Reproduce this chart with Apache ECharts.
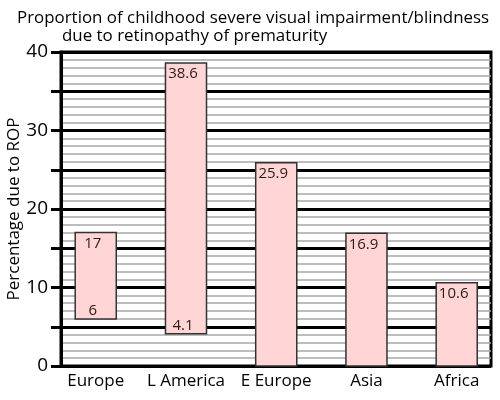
<!DOCTYPE html>
<html>
<head>
<meta charset="utf-8">
<script src="https://cdn.jsdelivr.net/npm/echarts@6/dist/echarts.min.js"></script>
<style>
  html, body { margin: 0; padding: 0; background: #fff; }
  #chart { width: 500px; height: 400px; }
</style>
</head>
<body>
<div id="chart"></div>
<script>
var categories = ['Europe', 'L America', 'E Europe', 'Asia', 'Africa'];
var lowValues = [6, 4.1, 0, 0, 0];
var highValues = [17, 38.6, 25.9, 16.9, 10.6];
var yLabelValues = [0, 10, 20, 30, 40];

var FONT = '"Open Sans", "Noto Sans", sans-serif';

var chart = echarts.init(document.getElementById('chart'));

var seriesData = categories.map(function (name, i) {
  return [i, lowValues[i], highValues[i]];
});

function renderBar(params, api) {
  var x = api.value(0);
  var lo = api.value(1);
  var hi = api.value(2);
  var top = api.coord([x, hi]);
  var bottom = api.coord([x, lo]);
  var w = api.size([1, 0])[0] * 0.455;
  var children = [{
    type: 'rect',
    shape: { x: top[0] - w / 2, y: top[1], width: w, height: bottom[1] - top[1] },
    style: { fill: '#ffd5d5', stroke: '#333', lineWidth: 1.5 }
  }, {
    type: 'text',
    style: {
      text: String(hi), x: top[0] - 3, y: top[1] + 11,
      fill: '#2b1a1a', font: '15px ' + FONT, align: 'center', verticalAlign: 'middle'
    }
  }];
  if (lo > 0) {
    children.push({
      type: 'text',
      style: {
        text: String(lo), x: bottom[0] - 3, y: bottom[1] - 8,
        fill: '#2b1a1a', font: '15px ' + FONT, align: 'center', verticalAlign: 'middle'
      }
    });
  }
  return { type: 'group', children: children };
}

var option = {
  backgroundColor: '#fff',
  animation: false,
  title: [{
    text: 'Proportion of childhood severe visual impairment/blindness',
    left: 12, top: 5,
    textStyle: { fontFamily: FONT, fontSize: 16.9, fontWeight: 'normal', color: '#000' }
  }, {
    text: 'due to retinopathy of prematurity',
    left: 57, top: 23,
    textStyle: { fontFamily: FONT, fontSize: 16.9, fontWeight: 'normal', color: '#000' }
  }],
  grid: {
    left: 61, right: 9, top: 52, bottom: 34,
    outerBoundsMode: 'none',
    containLabel: false,
    show: true, borderColor: '#000', borderWidth: 3, backgroundColor: '#fff'
  },
  xAxis: {
    type: 'value',
    min: -0.385,
    max: 4.38,
    axisLine: { show: false },
    axisTick: { show: false },
    splitLine: { show: false },
    axisLabel: {
      customValues: [0, 1, 2, 3, 4],
      formatter: function (v) { return categories[Math.round(v)]; },
      fontFamily: FONT, fontSize: 17, color: '#000', margin: 7
    }
  },
  yAxis: {
    type: 'value',
    min: 0, max: 40, interval: 5,
    name: 'Percentage due to ROP',
    nameLocation: 'middle',
    nameGap: 38,
    nameMoveOverlap: false,
    nameTextStyle: { fontFamily: FONT, fontSize: 17, color: '#000' },
    axisLine: { show: true, onZero: false, lineStyle: { color: '#000', width: 3 } },
    axisTick: { show: true, length: 10, lineStyle: { color: '#000', width: 3 } },
    axisLabel: {
      fontFamily: FONT, fontSize: 19, color: '#000', margin: 13,
      formatter: function (v) { return yLabelValues.indexOf(v) >= 0 ? String(v) : ''; }
    },
    splitLine: { show: true, lineStyle: { color: '#000', width: 3 } },
    minorTick: { show: false, splitNumber: 5 },
    minorSplitLine: { show: true, lineStyle: { color: '#a8a8a8', width: 1.5 } }
  },
  series: [{
    type: 'custom',
    renderItem: renderBar,
    encode: { x: 0, y: [1, 2] },
    data: seriesData,
    z: 5
  }]
};

chart.setOption(option);
</script>
</body>
</html>
